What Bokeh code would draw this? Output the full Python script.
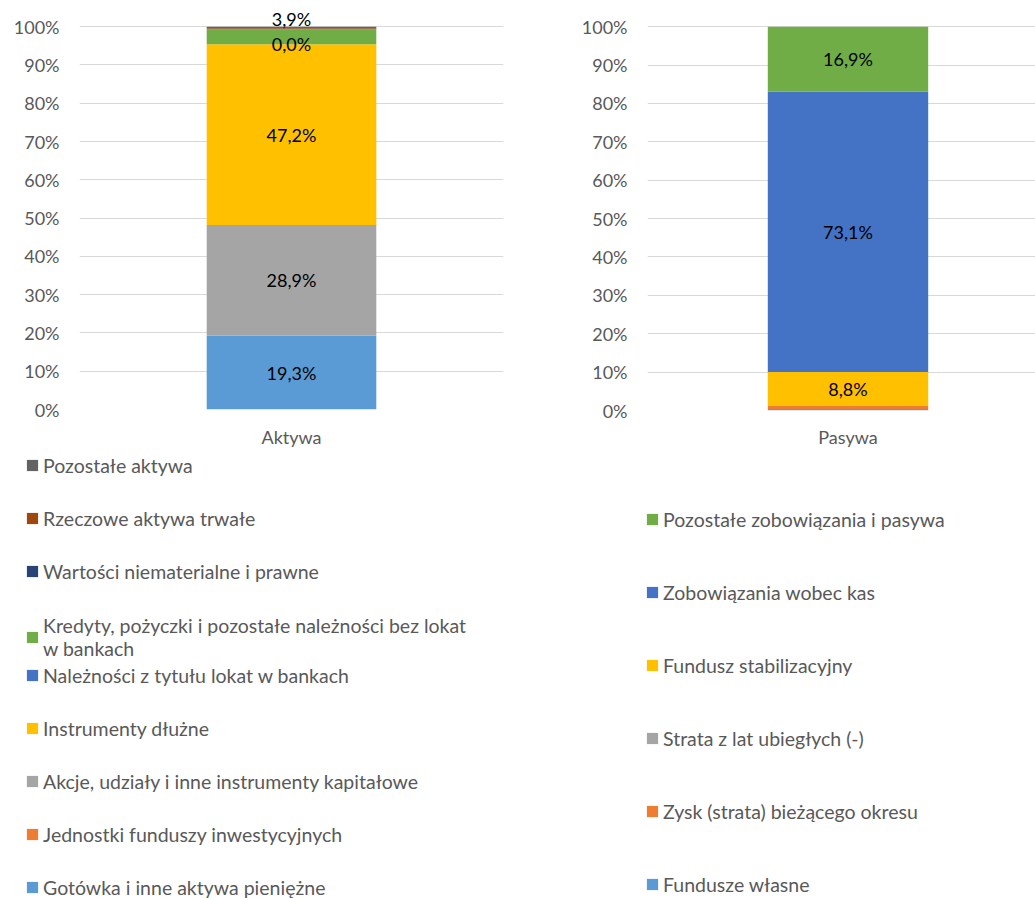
import numpy as np
from bokeh.plotting import figure
from bokeh.models import Range1d, FixedTicker, Legend, LegendItem, ColumnDataSource
from bokeh.layouts import row, column
from bokeh.embed import file_html
from bokeh.resources import INLINE
from bokeh.core.properties import value

# ---------------- data ----------------
categories = ["Aktywa", "Pasywa"]
y_ticks = [0, 10, 20, 30, 40, 50, 60, 70, 80, 90, 100]
y_tick_labels = ["0%", "10%", "20%", "30%", "40%", "50%", "60%", "70%", "80%", "90%", "100%"]

# stacked bottom -> top
aktywa_names = [
    "Gotówka i inne aktywa pieniężne",
    "Jednostki funduszy inwestycyjnych",
    "Akcje, udziały i inne instrumenty kapitałowe",
    "Instrumenty dłużne",
    "Należności z tytułu lokat w bankach",
    "Kredyty, pożyczki i pozostałe należności bez lokat\nw bankach",
    "Wartości niematerialne i prawne",
    "Rzeczowe aktywa trwałe",
    "Pozostałe aktywa",
]
aktywa_values = [19.3, 0.0, 28.9, 47.2, 0.0, 3.9, 0.0, 0.3, 0.4]
aktywa_labelled = [True, False, True, True, True, True, False, False, False]
aktywa_colors = ["#5B9BD5", "#ED7D31", "#A5A5A5", "#FFC000", "#4472C4",
                 "#70AD47", "#264478", "#9E480E", "#636363"]

pasywa_names = [
    "Fundusze własne",
    "Zysk (strata) bieżącego okresu",
    "Strata z lat ubiegłych (-)",
    "Fundusz stabilizacyjny",
    "Zobowiązania wobec kas",
    "Pozostałe zobowiązania i pasywa",
]
pasywa_values = [0.4, 0.8, 0.0, 8.8, 73.1, 16.9]
pasywa_labelled = [False, False, False, True, True, True]
pasywa_colors = ["#5B9BD5", "#ED7D31", "#A5A5A5", "#FFC000", "#4472C4", "#70AD47"]

# ---------------- style ----------------
FONT = "Lato"
AXIS_TEXT = "#595959"
GRID = "#D9D9D9"
LABEL_TEXT = "#000000"
TICK_SIZE = "18px"
DATA_SIZE = "18px"
LEG_SIZE = "19.5px"
Y_END = 105  # headroom above 100% so the lifted label is not clipped


def pct(v):
    return f"{v:.1f}".replace(".", ",") + "%"


def make_chart(cat, names, values, colors, labelled, width, height,
               b_left, b_right, b_top, b_bottom, x_end, lifts, y_standoff, x_standoff):
    p = figure(width=width, height=height,
               x_range=Range1d(-0.5, x_end), y_range=Range1d(0, Y_END),
               output_backend="svg", toolbar_location=None,
               min_border_left=b_left, min_border_right=b_right,
               min_border_top=b_top, min_border_bottom=b_bottom,
               frame_align=False)
    p.outline_line_color = None
    keys = [f"s{i}" for i in range(len(names))]
    data = {"x": [0]}
    for k, v in zip(keys, values):
        data[k] = [v]
    src = ColumnDataSource(data)
    p.vbar_stack(keys, x="x", width=0.4, source=src,
                 fill_color=colors, line_color=None)

    vals = np.array(values, dtype=float)
    tops = np.cumsum(vals)
    centers = tops - vals / 2
    idx = [i for i, s in enumerate(labelled) if s]
    lsrc = ColumnDataSource({
        "x": [0] * len(idx),
        "y": [float(centers[i]) for i in idx],
        "t": [pct(values[i]) for i in idx],
        "dy": [lifts.get(i, 0) for i in idx],
    })
    p.text(x="x", y="y", text="t", source=lsrc, y_offset="dy",
           text_font=value(FONT), text_font_size=DATA_SIZE,
           text_align="center", text_baseline="middle", text_color=LABEL_TEXT)

    p.yaxis.ticker = FixedTicker(ticks=y_ticks)
    p.yaxis.major_label_overrides = dict(zip(y_ticks, y_tick_labels))
    p.xaxis.ticker = FixedTicker(ticks=[0])
    p.xaxis.major_label_overrides = {0: cat}
    for ax in (p.xaxis, p.yaxis):
        ax.axis_line_color = None
        ax.major_tick_line_color = None
        ax.minor_tick_line_color = None
        ax.major_tick_out = 0
        ax.major_tick_in = 0
        ax.minor_tick_out = 0
        ax.minor_tick_in = 0
        ax.major_label_text_font = FONT
        ax.major_label_text_font_size = TICK_SIZE
        ax.major_label_text_color = AXIS_TEXT
    p.yaxis.major_label_standoff = y_standoff
    p.xaxis.major_label_standoff = x_standoff
    p.xgrid.visible = False
    p.ygrid.ticker = FixedTicker(ticks=y_ticks)
    p.ygrid.grid_line_color = GRID
    p.ygrid.grid_line_width = 1
    return p


def make_legend_fig(names, colors, width, height, groups):
    lf = figure(width=width, height=height,
                x_range=Range1d(0, 1), y_range=Range1d(0, 1),
                output_backend="svg", toolbar_location=None,
                min_border_left=0, min_border_top=0,
                min_border_bottom=0, min_border_right=0,
                x_axis_location=None, y_axis_location=None,
                frame_align=False)
    lf.outline_line_color = None
    lf.grid.grid_line_color = None
    # swatch renderers: zero-height bars, only their colours are shown in the legend
    rends = [lf.vbar(x=[0], top=[0], width=0.01, fill_color=c, line_color=None)
             for c in colors]
    order = list(range(len(names)))[::-1]  # legend lists top series first
    for start, stop, loc, sp in groups:
        items = [LegendItem(label=names[i], renderers=[rends[i]]) for i in order[start:stop]]
        leg = Legend(items=items, location=loc, orientation="vertical",
                     glyph_width=14, glyph_height=14, label_standoff=4,
                     label_height=24, spacing=sp, padding=0, margin=0,
                     border_line_color=None, background_fill_alpha=0,
                     label_text_font=FONT, label_text_font_size=LEG_SIZE,
                     label_text_color=AXIS_TEXT)
        lf.add_layout(leg)
    return lf


p1 = make_chart(categories[0], aktywa_names, aktywa_values, aktywa_colors, aktywa_labelled,
                width=560, height=450, b_left=79, b_right=57, b_top=7, b_bottom=41,
                x_end=0.5, lifts={5: -18}, y_standoff=20, x_standoff=16)
p2 = make_chart(categories[1], pasywa_names, pasywa_values, pasywa_colors, pasywa_labelled,
                width=475, height=450, b_left=87, b_right=0, b_top=7, b_bottom=39,
                x_end=-0.5 + 388 / 401, lifts={}, y_standoff=20, x_standoff=15)

# legend blocks: (first, stop, (dx, dy) of block's bottom-left from figure bottom-left, spacing)
l1 = make_legend_fig(aktywa_names, aktywa_colors, 560, 448, [
    (0, 3, (25, 315), 29),
    (3, 4, (25, 238), 29),
    (4, 9, (25, -1), 29),
])
l2 = make_legend_fig(pasywa_names, pasywa_colors, 475, 448, [
    (0, 6, (85, 2), 49),
])

layout = row(column(p1, l1), column(p2, l2))

open("out.html", "w").write(file_html(layout, INLINE))
